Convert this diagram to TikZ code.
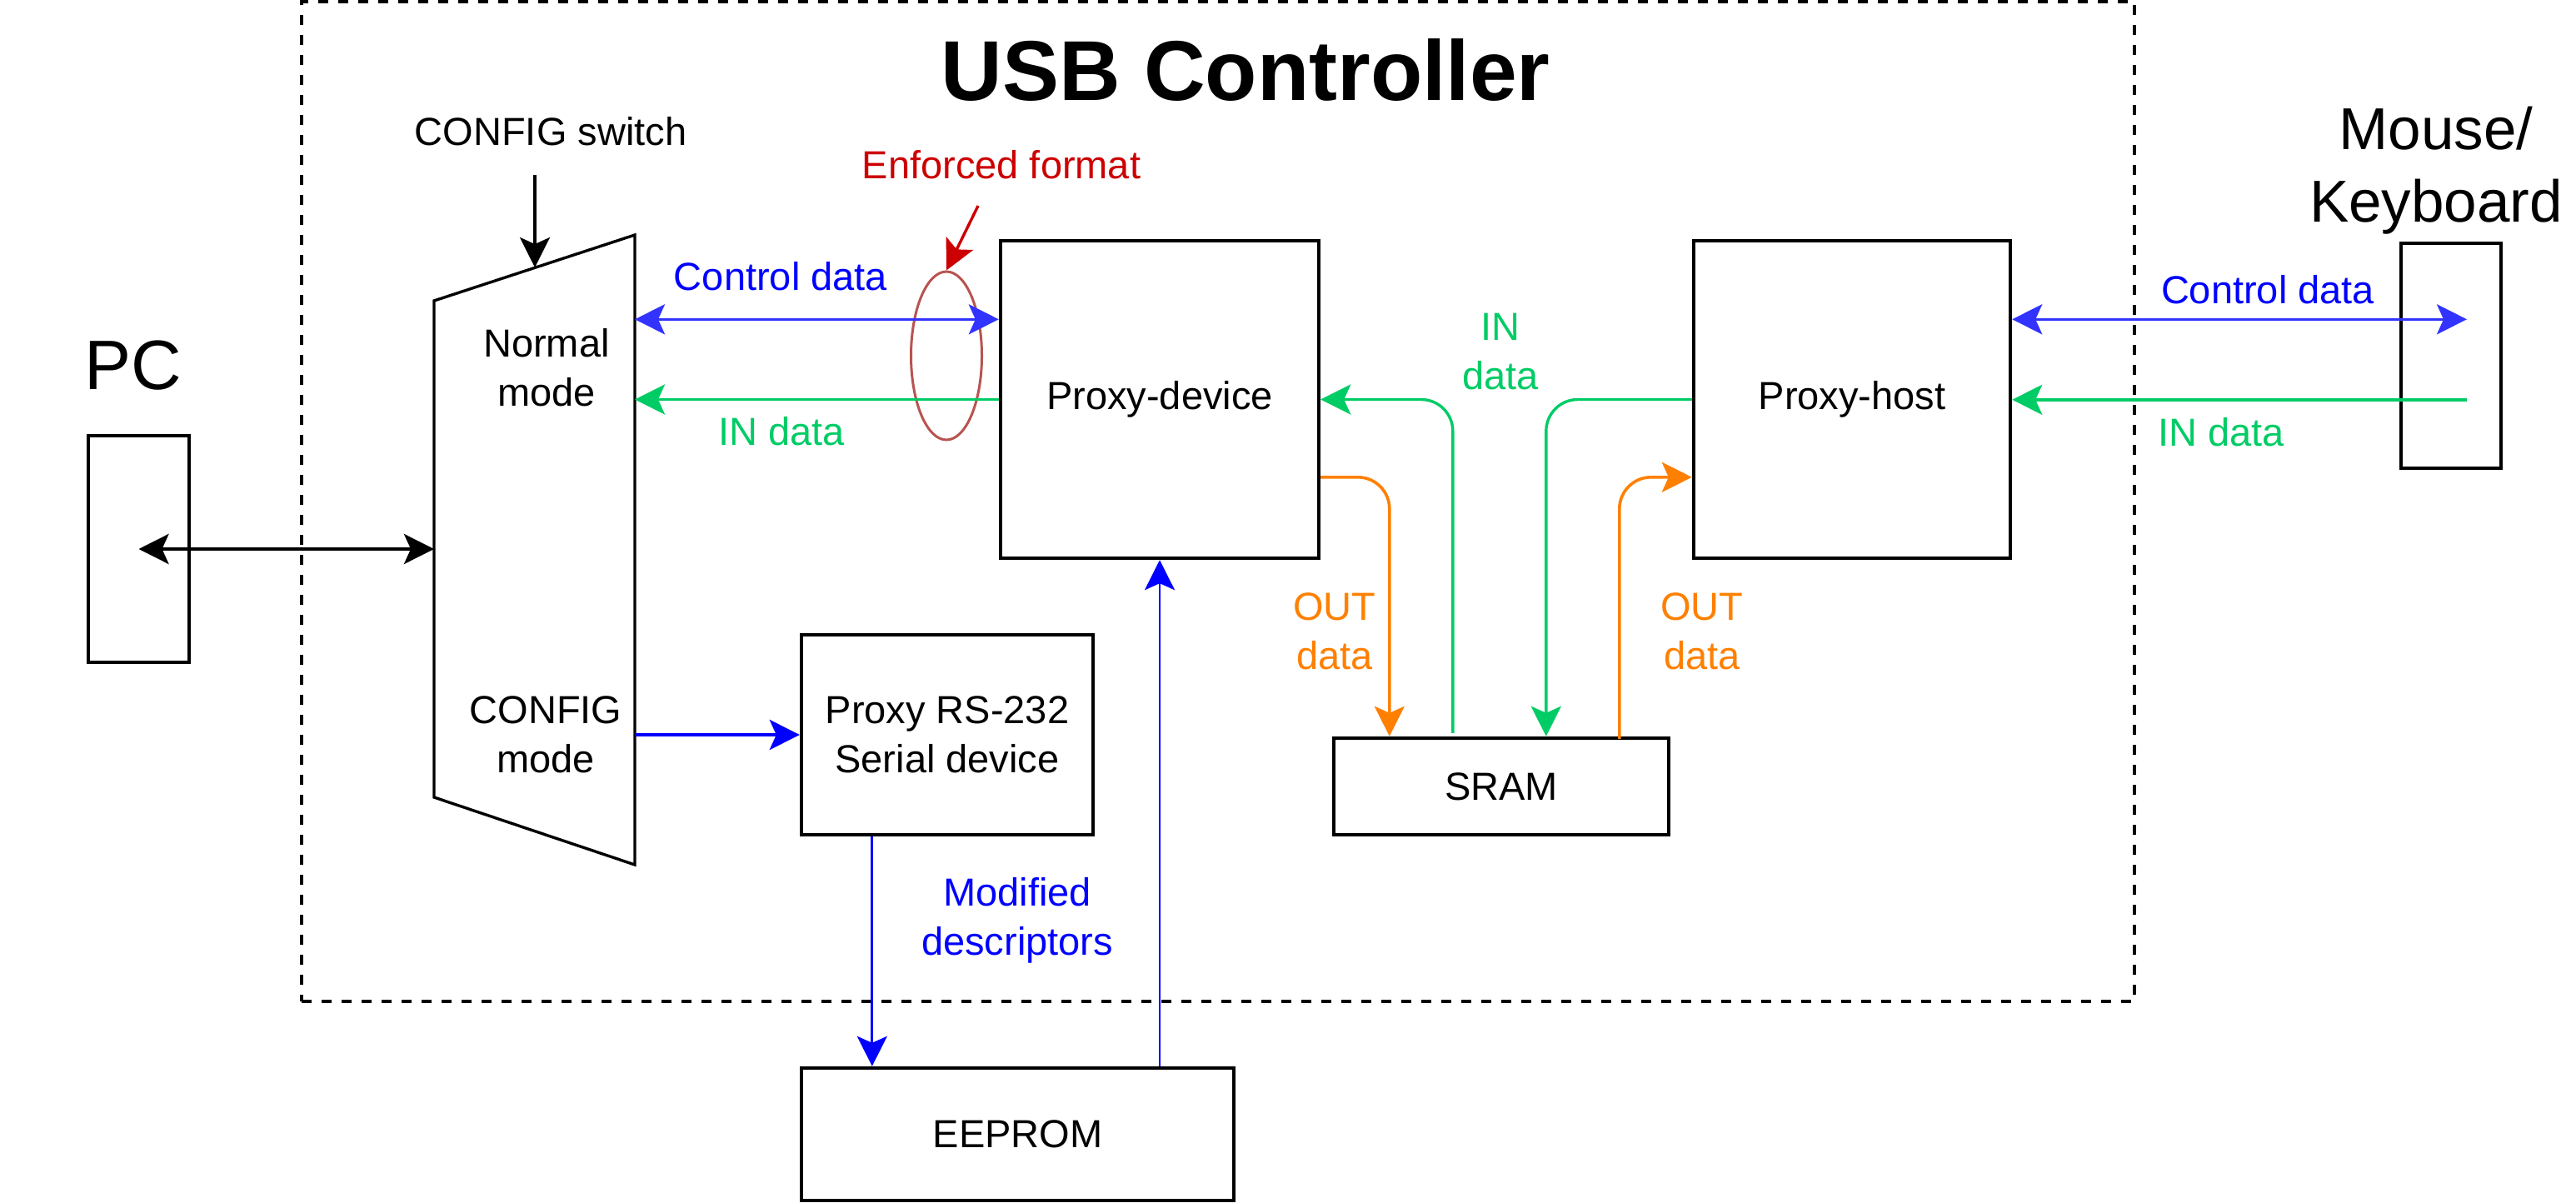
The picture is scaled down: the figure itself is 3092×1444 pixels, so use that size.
\documentclass[tikz,border=0pt]{standalone}
\usepackage{fontspec}
\setmainfont{Liberation Sans}
\usetikzlibrary{arrows.meta,shapes.geometric,calc}
\definecolor{ctlblue}{HTML}{3333FF}
\definecolor{txtblue}{HTML}{0000FF}
\definecolor{ingreen}{HTML}{00CC66}
\definecolor{outorange}{HTML}{FF8000}
\definecolor{enfred}{HTML}{CC0000}
\definecolor{ellred}{HTML}{B85450}
\newcommand\fnorm{\fontsize{11.75pt}{14.75pt}\selectfont}
\newcommand\fbig{\fontsize{17.75pt}{21.75pt}\selectfont}
\newcommand\fpc{\fontsize{21pt}{25pt}\selectfont}
\newcommand\ftitle{\fontsize{25.5pt}{30pt}\selectfont\bfseries}
\tikzset{
  blk/.style={draw, line width=1.1pt, inner sep=0pt, font=\fnorm, align=center},
  lbl/.style={font=\fnorm, anchor=base, align=center, inner sep=0pt},
  tipa/.style={-{Stealth[length=9pt,width=9pt,inset=2pt]}},
  tipb/.style={{Stealth[length=9pt,width=9pt,inset=2pt]}-{Stealth[length=9pt,width=9pt,inset=2pt]}},
  frame/.style={draw, line width=1pt, dash pattern=on 3pt off 3pt, inner sep=0pt,
    minimum width=550pt, minimum height=300pt}
}
\begin{document}
\begin{tikzpicture}[x=0.25pt,y=-0.25pt]
\useasboundingbox (0,0) rectangle (3092,1444);

% controller frame and title
\node[frame] (ctrl) at (1462,602) {};
\node[font=\ftitle, anchor=base, inner sep=0pt] (ttl) at (1495,121) {USB Controller};

% PC
\node[blk, line width=0.9pt, minimum width=30.25pt, minimum height=68pt] (pc) at (166.5,659) {};
\node[font=\fpc, anchor=base, inner sep=0pt] (pcl) at (160,467) {PC};

% mux
\draw[line width=0.85pt] (521,361) coordinate (muxtl) -- (762,282) coordinate (muxtr)
  -- (762,1038) coordinate (muxbr) -- (521,957) coordinate (muxbl) -- cycle;
\coordinate (muxsw) at (642,321);
\coordinate (swsrc) at (642,210);
\node[lbl] (swl) at (661,175) {CONFIG switch};
\node[lbl] (norml) at (656,487) {Normal\\mode};
\node[lbl] (cfgl) at (655,927) {CONFIG\\mode};

% blocks
\node[blk, minimum width=95.5pt, minimum height=95.25pt] (pd) at (1392,479.5) {Proxy-device};
\node[blk, minimum width=95pt, minimum height=95.25pt] (ph) at (2223,479.5) {Proxy-host};
\node[blk, minimum width=87.5pt, minimum height=60pt] (rs) at (1137,882) {Proxy RS-232\\Serial device};
\node[blk, minimum width=129.75pt, minimum height=39.75pt] (eep) at (1221.5,1361.5) {EEPROM};
\node[blk, minimum width=100.5pt, minimum height=29pt] (sram) at (1802,944) {SRAM};
\node[blk, minimum width=30pt, minimum height=67.5pt] (mk) at (2942,427) {};
\node[font=\fbig, anchor=base, align=center, inner sep=0pt] (mkl) at (2924,267) {Mouse/\\Keyboard};

% enforced format
\node[draw=ellred, line width=0.75pt, ellipse, minimum width=21.25pt, minimum height=50.5pt, inner sep=0pt] (enf) at (1136,427) {};
\node[lbl, text=enfred] (enfl) at (1202,215) {Enforced format};
\coordinate (enfsrc) at (1174,247);
\draw[tipa, enfred, line width=0.85pt] (enfsrc) -- (enf.north);

% PC <-> mux
\draw[tipb, line width=1pt] (pc.center) -- (pc.center -| muxtl);
% config switch
\draw[tipa, line width=0.85pt] (swsrc) -- (muxsw);

% left data paths
\coordinate (pdctl) at ($(pd.north west)+(0,96.5)$);
\draw[tipb, ctlblue, line width=0.9pt] (muxtr |- pdctl) -- (pdctl);
\draw[tipa, ingreen, line width=0.9pt] (pd.west) -- (pd.west -| muxtr);
\node[lbl, text=txtblue] (ctll) at (937,348) {Control data};
\node[lbl, text=ingreen] (inl) at (938,534) {IN data};

% config mode -> RS-232 -> EEPROM -> proxy-device
\draw[tipa, txtblue, line width=1.05pt] (rs.west -| muxtr) -- (rs.west);
\draw[tipa, txtblue, line width=0.7pt] ($(rs.south west)+(87,0)$) -- ($(eep.north west)+(87,0)$);
\draw[tipa, txtblue, line width=0.7pt] (eep.north -| pd.south) -- (pd.south);
\node[lbl, text=txtblue] (modl) at (1221,1146) {Modified\\descriptors};

% SRAM paths
\coordinate (s1) at ($(sram.north west)+(145,-4)$);
\coordinate (s2) at ($(sram.north west)+(257,0)$);
\coordinate (s3) at ($(sram.north west)+(69,0)$);
\coordinate (s4) at ($(sram.north west)+(345,3)$);
\coordinate (pdout) at ($(pd.north east)+(0,286)$);
\coordinate (phout) at ($(ph.north west)+(0,286)$);
\draw[tipa, ingreen, line width=0.85pt, rounded corners=9.5pt] (s1) -- (s1 |- pd.east) -- (pd.east);
\draw[tipa, ingreen, line width=0.85pt, rounded corners=9.5pt] (ph.west) -- (s2 |- ph.west) -- (s2);
\draw[tipa, outorange, line width=0.9pt, rounded corners=9.5pt] (pdout) -- (s3 |- pdout) -- (s3);
\draw[tipa, outorange, line width=0.9pt, rounded corners=9.5pt] (s4) -- (s4 |- phout) -- (phout);
\node[lbl, text=ingreen] (inml) at (1801,467) {IN\\data};
\node[lbl, text=outorange] (outl) at (1602,803) {OUT\\data};
\node[lbl, text=outorange] (outr) at (2043,803) {OUT\\data};

% right data paths
\coordinate (mkctl) at ($(mk.north)+(19,93.5)$);
\coordinate (mkin) at ($(mk.north)+(19,190)$);
\draw[tipb, ctlblue, line width=0.9pt] (ph.east |- mkctl) -- (mkctl);
\draw[tipa, ingreen, line width=0.9pt] (mkin) -- (ph.east |- mkin);
\node[lbl, text=txtblue] (ctlr) at (2722,364) {Control data};
\node[lbl, text=ingreen] (inr) at (2666,535) {IN data};
\end{tikzpicture}
\end{document}
